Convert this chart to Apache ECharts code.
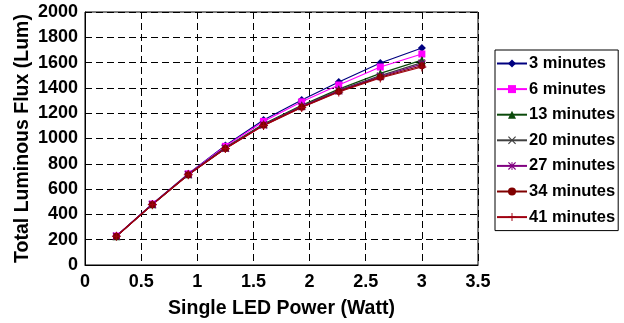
<!DOCTYPE html>
<html>
<head>
<meta charset="utf-8">
<script src="https://cdn.jsdelivr.net/npm/echarts@6/dist/echarts.min.js"></script>
<style>
  html, body { margin: 0; padding: 0; background: #fff; }
  #chart { width: 624px; height: 323px; }
</style>
</head>
<body>
<div id="chart"></div>
<script>
// Single LED power (W) at each measurement point
const power = [0.28, 0.6, 0.92, 1.25, 1.59, 1.93, 2.26, 2.63, 3.0];

// Total luminous flux (Lum) after each elapsed time
const flux3  = [229, 482, 722, 945, 1146, 1304, 1447, 1597, 1715];
const flux6  = [229, 482, 720, 938, 1135, 1290, 1423, 1565, 1668];
const flux13 = [228, 480, 717, 928, 1115, 1262, 1390, 1515, 1620];
const flux20 = [228, 479, 716, 925, 1110, 1256, 1382, 1497, 1600];
const flux27 = [228, 479, 715, 923, 1107, 1252, 1377, 1490, 1588];
const flux34 = [227, 478, 714, 921, 1104, 1248, 1372, 1484, 1575];
const flux41 = [227, 477, 713, 920, 1102, 1245, 1368, 1478, 1565];

const seriesNames = ['3 minutes', '6 minutes', '13 minutes', '20 minutes', '27 minutes', '34 minutes', '41 minutes'];
const seriesData = [flux3, flux6, flux13, flux20, flux27, flux34, flux41];

const xTicks = { min: 0, max: 3.5, interval: 0.5 };
const yTicks = { min: 0, max: 2000, interval: 200 };

// marker shapes: cross, asterisk and plus drawn as thin filled paths
const crossPath = 'path://M0,1 L1,0 L5,4 L9,0 L10,1 L6,5 L10,9 L9,10 L5,6 L1,10 L0,9 L4,5 Z';
const starPath = 'path://M0,1 L1,0 L5,4 L9,0 L10,1 L6,5 L10,9 L9,10 L5,6 L1,10 L0,9 L4,5 Z M4.4,0 L5.6,0 L5.6,10 L4.4,10 Z';
const plusPath = 'path://M4.4,0 L5.6,0 L5.6,4.4 L10,4.4 L10,5.6 L5.6,5.6 L5.6,10 L4.4,10 L4.4,5.6 L0,5.6 L0,4.4 L4.4,4.4 Z';

const styles = [
  { color: '#000080', symbol: 'diamond', size: 8 },
  { color: '#FF00FF', symbol: 'rect', size: 7 },
  { color: '#0B4A0B', symbol: 'triangle', size: 8 },
  { color: '#404040', symbol: crossPath, size: 7 },
  { color: '#800080', symbol: starPath, size: 8 },
  { color: '#800000', symbol: 'circle', size: 7 },
  { color: '#A00010', symbol: plusPath, size: 9 }
];

const font = 'Liberation Sans, Arial, sans-serif';

const series = seriesNames.map((name, i) => ({
  name: name,
  type: 'line',
  data: power.map((p, j) => [p, seriesData[i][j]]),
  symbol: styles[i].symbol,
  symbolSize: styles[i].size,
  showSymbol: true,
  lineStyle: { color: styles[i].color, width: 1.2 },
  itemStyle: { color: styles[i].color }
}));

const chart = echarts.init(document.getElementById('chart'), null, { renderer: 'canvas' });
chart.setOption({
  animation: false,
  backgroundColor: '#ffffff',
  textStyle: { fontFamily: font },
  grid: {
    left: 85, right: 146, top: 12, bottom: 58,
    outerBoundsMode: 'none', containLabel: false,
    show: true, borderColor: '#000', borderWidth: 1
  },
  legend: {
    orient: 'vertical',
    left: 495,
    top: 50,
    width: 128,
    padding: [5, 3, 5, 1],
    borderColor: '#000',
    borderWidth: 1,
    itemWidth: 30,
    itemHeight: 10,
    itemGap: 8.6,
    textStyle: { fontFamily: font, fontWeight: 'bold', fontSize: 16.5, lineHeight: 16, color: '#000', padding: [0, 0, 0, -3] },
    data: seriesNames
  },
  xAxis: {
    type: 'value',
    min: xTicks.min, max: xTicks.max, interval: xTicks.interval,
    name: 'Single LED Power (Watt)',
    nameLocation: 'middle',
    nameGap: 34,
    nameMoveOverlap: false,
    nameTextStyle: { fontFamily: font, fontWeight: 'bold', fontSize: 19.5, color: '#000' },
    axisLine: { lineStyle: { color: '#000', width: 1 } },
    axisTick: { show: false },
    axisLabel: { fontFamily: font, fontWeight: 'bold', fontSize: 18, color: '#000', margin: 8 },
    splitLine: { show: true, lineStyle: { color: '#000', type: [7, 4], width: 1 } }
  },
  yAxis: {
    type: 'value',
    min: yTicks.min, max: yTicks.max, interval: yTicks.interval,
    name: 'Total Luminous Flux (Lum)',
    nameLocation: 'middle',
    nameGap: 52,
    nameMoveOverlap: false,
    nameTextStyle: { fontFamily: font, fontWeight: 'bold', fontSize: 19.5, color: '#000' },
    axisLine: { show: true, lineStyle: { color: '#000', width: 1 } },
    axisTick: { show: false },
    axisLabel: { fontFamily: font, fontWeight: 'bold', fontSize: 18, color: '#000', margin: 7, formatter: v => String(v) },
    splitLine: { show: true, lineStyle: { color: '#000', type: [7, 4], width: 1 } }
  },
  series: series
});
</script>
</body>
</html>
